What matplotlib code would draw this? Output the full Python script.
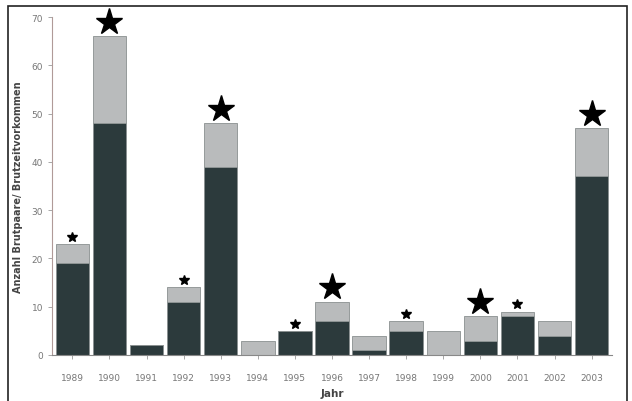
import matplotlib
matplotlib.use("Agg")
import matplotlib.pyplot as plt
from matplotlib.patches import Rectangle

years = ["1989", "1990", "1991", "1992", "1993", "1994", "1995", "1996",
         "1997", "1998", "1999", "2000", "2001", "2002", "2003"]
dark_vals = [19, 48, 2, 11, 39, 0, 5, 7, 1, 5, 0, 3, 8, 4, 37]
total_vals = [23, 66, 2, 14, 48, 3, 5, 11, 4, 7, 5, 8, 9, 7, 47]
# marker type per year: 2 = large star, 1 = small star, 0 = none
star_type = [1, 2, 0, 1, 2, 0, 1, 2, 0, 1, 0, 2, 1, 0, 2]
y_ticks = [0, 10, 20, 30, 40, 50, 60, 70]

light_vals = [t - d for t, d in zip(total_vals, dark_vals)]

fig = plt.figure(figsize=(6.32, 4.02), dpi=100)
fig.patch.set_facecolor("white")

# outer frame
fig.patches.append(Rectangle((8 / 632, -0.01), (627 - 8) / 632, 1 - 7 / 402 + 0.01,
                             transform=fig.transFigure, fill=False,
                             edgecolor="#222222", linewidth=1.2))

ax = fig.add_axes([52 / 632, 1 - 356 / 402, (612 - 52) / 632, (356 - 18) / 402])
x = list(range(len(years)))
dark_c = "#2c3a3c"
light_c = "#b9bbbc"
ax.bar(x, dark_vals, width=0.9, color=dark_c, edgecolor="#8a9090", linewidth=0.6)
ax.bar(x, light_vals, bottom=dark_vals, width=0.9, color=light_c,
       edgecolor="#8a9090", linewidth=0.6)

for xi, t, s in zip(x, total_vals, star_type):
    if s == 2:
        ax.plot(xi, t + 3.0, marker="*", color="black", markersize=20, clip_on=False)
    elif s == 1:
        ax.plot(xi, t + 1.5, marker="*", color="black", markersize=7, clip_on=False)

ax.set_xlim(-0.55, len(years) - 0.45)
ax.set_ylim(0, 70)
ax.set_yticks(y_ticks)
ax.set_yticklabels([str(v) for v in y_ticks], fontsize=6.5, color="#777777")
ax.set_xticks(x)
ax.set_xticklabels(years, fontsize=6.5, color="#777777")
ax.tick_params(axis="both", length=3, color="#999999", width=0.6)
ax.tick_params(axis="x", pad=10)
for side in ["top", "right"]:
    ax.spines[side].set_visible(False)
ax.spines["left"].set_color("#b09a98")
ax.spines["left"].set_linewidth(0.8)
ax.spines["bottom"].set_color("#888888")
ax.spines["bottom"].set_linewidth(0.8)

ax.set_ylabel("Anzahl Brutpaare/ Brutzeitvorkommen", fontsize=7, color="#444444",
              fontweight="bold", labelpad=6)
ax.set_xlabel("Jahr", fontsize=7.5, color="#444444", fontweight="bold", labelpad=4)

fig.savefig("out.png", dpi=100, facecolor="white")
